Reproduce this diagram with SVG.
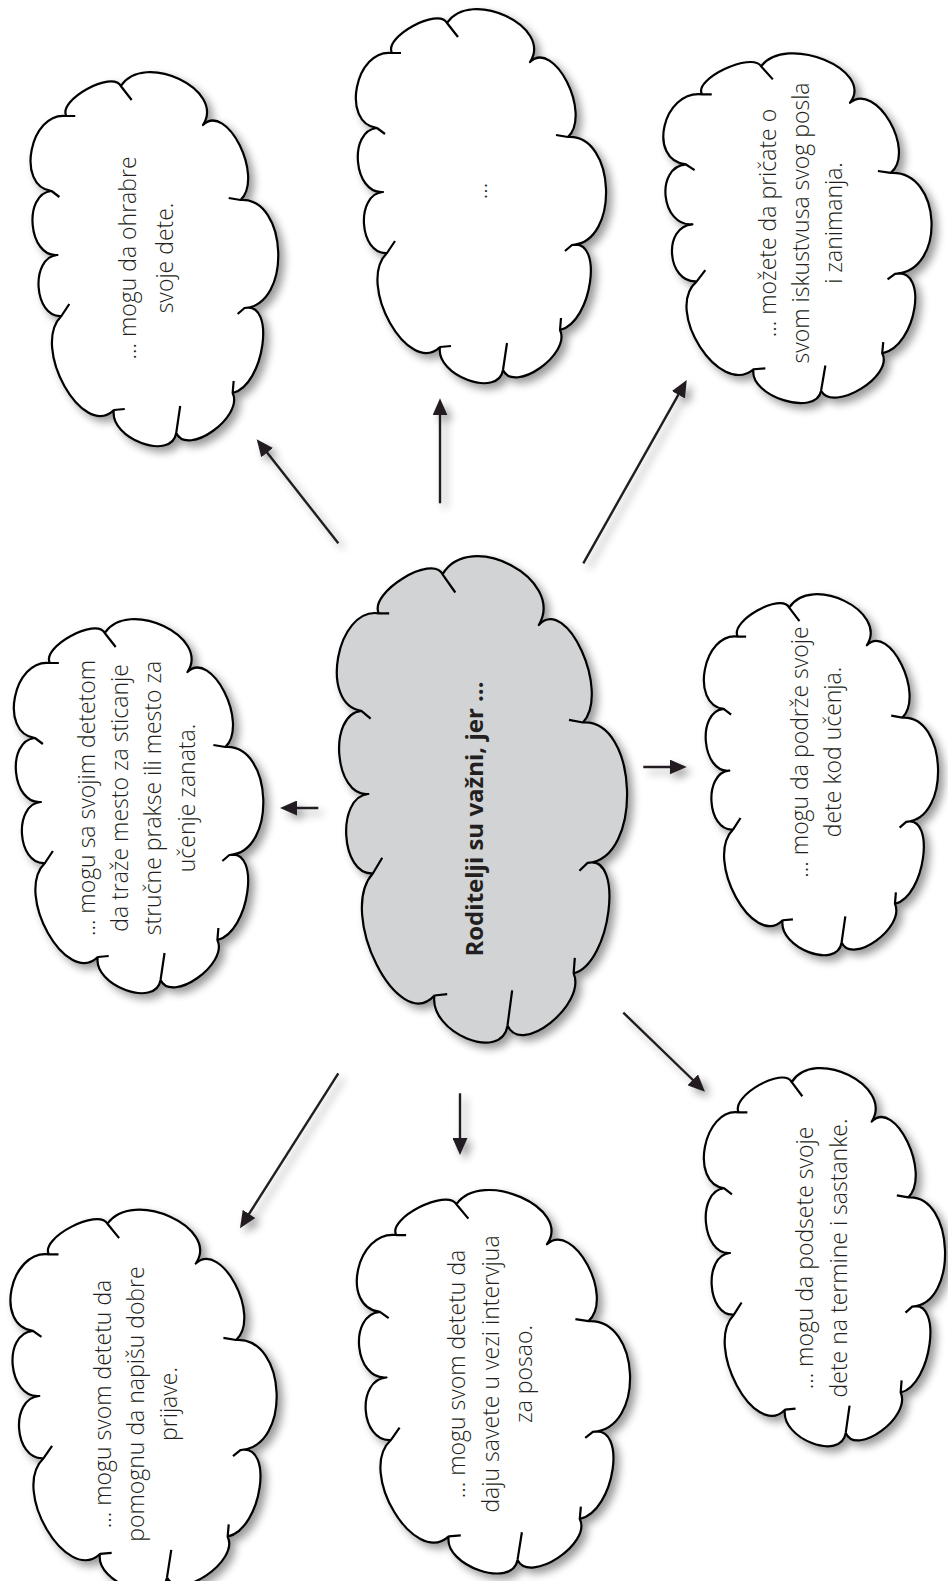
<svg xmlns="http://www.w3.org/2000/svg" xmlns:xlink="http://www.w3.org/1999/xlink" width="948" height="1581" viewBox="0 0 948 1581">
<style>
.cl{stroke:#000;stroke-width:2.2;stroke-linejoin:round}
.w{fill:#fff}
.g{fill:#d1d3d4}
.t{font-family:"Open Sans","Liberation Sans",sans-serif;font-weight:300;font-size:23px;fill:#231f20;text-anchor:middle}
.b{font-family:"Open Sans","Liberation Sans",sans-serif;font-weight:700;font-size:24px;fill:#231f20;text-anchor:middle}
.ar{stroke:#231f20;stroke-width:2.4;fill:none;marker-end:url(#ah)}
</style>
<defs>
<filter id="sh" x="-20%" y="-20%" width="150%" height="150%">
<feGaussianBlur in="SourceAlpha" stdDeviation="4"/>
<feOffset dx="5" dy="5" result="o"/>
<feComponentTransfer><feFuncA type="linear" slope="0.4"/></feComponentTransfer>
<feMerge><feMergeNode/><feMergeNode in="SourceGraphic"/></feMerge>
</filter>
<marker id="ah" markerUnits="userSpaceOnUse" markerWidth="17" markerHeight="15" refX="11" refY="7.5" orient="auto" viewBox="0 0 17 15">
<path d="M0,0 L17,7.5 L0,15 z" fill="#231f20"/>
</marker>
<path id="cloud" vector-effect="non-scaling-stroke" d="M91,11 C114.3,-24.3 197.3,14.7 174,50 C198,26.7 236,101.7 212,125 C260,122.3 264,230.3 216,233 C248,225.7 236,310.7 204,318 C215.3,342 158.3,382 147,358 C142.3,386.7 79.3,363.7 84,335 C52.7,365.7 -0.3,271.7 31,241 C3,243 -1,182 27,180 C-2.3,182.7 -8.3,118.7 21,116 C-15.7,111.3 -0.7,36.3 36,41 C27.3,25 82.3,-5 91,11 Z M91,11 L102,25 M212,125 L200,123 M216,233 L209,239 M204,318 L205,306 M147,358 L151,331 M84,335 L95,334 M31,241 L39,229 M21,116 L29,122 M36,41 L45,41"/>
</defs>
<rect width="948" height="1581" fill="#fff"/>

<g id="connectors" filter="url(#sh)">
<line class="ar" x1="338.3" y1="543.3" x2="260.4" y2="444"/>
<line class="ar" x1="440" y1="503.3" x2="440" y2="404.3"/>
<line class="ar" x1="583.3" y1="563.3" x2="683.8" y2="385.2"/>
<line class="ar" x1="318.3" y1="808" x2="286" y2="808"/>
<line class="ar" x1="643.3" y1="767" x2="680.7" y2="767"/>
<line class="ar" x1="338.3" y1="1073.3" x2="243.2" y2="1223.2"/>
<line class="ar" x1="460" y1="1093.3" x2="460" y2="1149"/>
<line class="ar" x1="623.3" y1="1012.7" x2="700.7" y2="1087.5"/>
</g>

<g id="node-ohrabre">
<g filter="url(#sh)"><use xlink:href="#cloud" class="cl w" transform="translate(30.7,75) scale(0.99,1.0)"/></g>
<text class="t" transform="rotate(-90)"><tspan x="-258" y="136">… mogu da ohrabre</tspan><tspan x="-258" y="172.7">svoje dete.</tspan></text>
</g>

<g id="node-empty">
<g filter="url(#sh)"><use xlink:href="#cloud" class="cl w" transform="translate(356,12)"/></g>
<text class="t" transform="rotate(-90)"><tspan x="-191" y="487">…</tspan></text>
</g>

<g id="node-pricate">
<g filter="url(#sh)"><use xlink:href="#cloud" class="cl w" transform="translate(663.5,56) scale(1.072,0.935)"/></g>
<text class="t" transform="rotate(-90)"><tspan x="-223" y="775.7">… možete da pričate o</tspan><tspan x="-223" y="809">svom iskustvusa svog posla</tspan><tspan x="-223" y="842.3">i zanimanja.</tspan></text>
</g>

<g id="node-prakse">
<g filter="url(#sh)"><use xlink:href="#cloud" class="cl w" transform="translate(14,622) scale(0.997,1)"/></g>
<text class="t" transform="rotate(-90)"><tspan x="-798" y="94.7">… mogu sa svojim detetom</tspan><tspan x="-798" y="128">da traže mesto za sticanje</tspan><tspan x="-798" y="161.3">stručne prakse ili mesto za</tspan><tspan x="-798" y="194.7">učenje zanata.</tspan></text>
</g>

<g id="node-center">
<g filter="url(#sh)"><use xlink:href="#cloud" class="cl g" transform="translate(337,560) scale(1.16,1.3)"/></g>
<text class="b" transform="rotate(-90)"><tspan x="-819" y="483.3">Roditelji su važni, jer …</tspan></text>
</g>

<g id="node-podrze">
<g filter="url(#sh)"><use xlink:href="#cloud" class="cl w" transform="translate(704,597) scale(0.936,0.965)"/></g>
<text class="t" transform="rotate(-90)"><tspan x="-752" y="808">… mogu da podrže svoje</tspan><tspan x="-752" y="841.3">dete kod učenja.</tspan></text>
</g>

<g id="node-prijave">
<g filter="url(#sh)"><use xlink:href="#cloud" class="cl w" transform="translate(10.6,1212.6) scale(1.064,1.019)"/></g>
<text class="t" transform="rotate(-90)"><tspan x="-1404" y="110.7">… mogu svom detetu da</tspan><tspan x="-1404" y="144">pomognu da napišu dobre</tspan><tspan x="-1404" y="177.3">prijave.</tspan></text>
</g>

<g id="node-intervju">
<g filter="url(#sh)"><use xlink:href="#cloud" class="cl w" transform="translate(357,1193) scale(1.092,1.025)"/></g>
<text class="t" transform="rotate(-90)"><tspan x="-1374" y="465.3">… mogu svom detetu da</tspan><tspan x="-1374" y="498.7">daju savete u vezi intervjua</tspan><tspan x="-1374" y="532">za posao.</tspan></text>
</g>

<g id="node-termine">
<g filter="url(#sh)"><use xlink:href="#cloud" class="cl w" transform="translate(704,1071) scale(0.964,1.011)"/></g>
<text class="t" transform="rotate(-90)"><tspan x="-1258" y="813.3">… mogu da podsete svoje</tspan><tspan x="-1258" y="846.7">dete na termine i sastanke.</tspan></text>
</g>
</svg>
